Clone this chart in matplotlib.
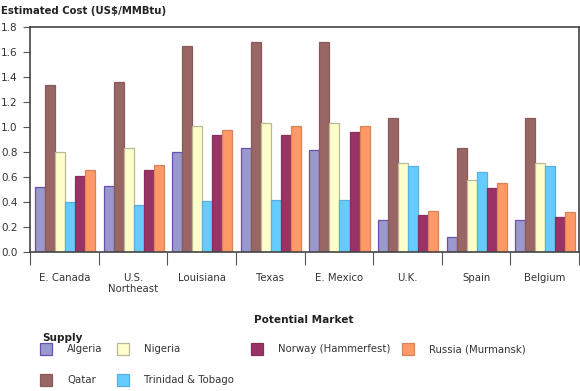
import numpy as np
import matplotlib
matplotlib.use('Agg')
from matplotlib import pyplot as plt
from matplotlib.patches import Rectangle

markets = ['E. Canada', 'U.S.\nNortheast', 'Louisiana', 'Texas', 'E. Mexico', 'U.K.', 'Spain', 'Belgium']
algeria = [0.52, 0.53, 0.80, 0.83, 0.82, 0.26, 0.12, 0.26]
qatar = [1.34, 1.36, 1.65, 1.68, 1.68, 1.07, 0.83, 1.07]
nigeria = [0.80, 0.83, 1.01, 1.03, 1.03, 0.71, 0.58, 0.71]
trinidad = [0.40, 0.38, 0.41, 0.42, 0.42, 0.69, 0.64, 0.69]
norway = [0.61, 0.66, 0.94, 0.94, 0.96, 0.30, 0.51, 0.28]
russia = [0.66, 0.70, 0.98, 1.01, 1.01, 0.33, 0.55, 0.32]

series = [
    ('Algeria', algeria, '#9999cc', '#6a4fae'),
    ('Qatar', qatar, '#996666', '#8a5a5a'),
    ('Nigeria', nigeria, '#ffffcc', '#b9b99a'),
    ('Trinidad & Tobago', trinidad, '#66ccff', '#5aaee0'),
    ('Norway (Hammerfest)', norway, '#993366', '#8a2d5c'),
    ('Russia (Murmansk)', russia, '#ff9966', '#d8845a'),
]

fig = plt.figure(figsize=(5.8, 3.91), dpi=100)
ax = fig.add_axes([30 / 580, 139 / 391, 549 / 580, 225 / 391])

x = np.arange(len(markets))
w = 0.146
for i, (name, vals, color, edge) in enumerate(series):
    ax.bar(x + (i - 2.5) * w + 0.01, vals, w, color=color, edgecolor=edge, linewidth=0.9, zorder=2)

ax.set_xlim(-0.5, len(markets) - 0.5)
ax.set_ylim(0, 1.8)
ax.set_yticks(np.arange(0, 1.81, 0.2))
ax.set_yticklabels([f'{v:.1f}' for v in np.arange(0, 1.81, 0.2)])
ax.set_xticks(np.arange(len(markets) + 1) - 0.5)
ax.set_xticklabels([])
ax.set_xticks(x, minor=True)
ax.set_xticklabels(markets, minor=True)
ax.tick_params(axis='x', which='major', length=9, width=0.8, color='#555555')
ax.tick_params(axis='x', which='minor', length=0, pad=15, labelsize=7.3, labelcolor='#333333')
ax.tick_params(axis='y', length=5, width=0.8, color='#555555', pad=4, labelsize=7.5, labelcolor='#333333')
for s in ax.spines.values():
    s.set_color('#444444')
    s.set_linewidth(1.2)

fig.text(1 / 580, 1 - 11 / 391, 'Estimated Cost (US$/MMBtu)', fontsize=7.3, fontweight='bold',
         color='#222222', va='center', ha='left')
fig.text(304 / 580, 1 - 320 / 391, 'Potential Market', fontsize=7.6, fontweight='bold',
         color='#222222', va='center', ha='center')
fig.text(42 / 580, 1 - 338 / 391, 'Supply', fontsize=7.6, fontweight='bold',
         color='#222222', va='center', ha='left')

# legend placed by hand: (left x, centre y) in pixels
legend_pos = {
    'Algeria': (40, 349), 'Nigeria': (117, 349), 'Norway (Hammerfest)': (251, 349),
    'Russia (Murmansk)': (402, 349), 'Qatar': (40, 380), 'Trinidad & Tobago': (117, 380),
}
for name, vals, color, edge in series:
    px, py = legend_pos[name]
    fig.add_artist(Rectangle((px / 580, (391 - py - 6) / 391), 12 / 580, 12 / 391,
                             transform=fig.transFigure, facecolor=color, edgecolor=edge, linewidth=0.9))
    fig.text((px + 27) / 580, (391 - py) / 391, name, fontsize=7.3, color='#333333', va='center', ha='left')

fig.savefig('out.png', dpi=100)
